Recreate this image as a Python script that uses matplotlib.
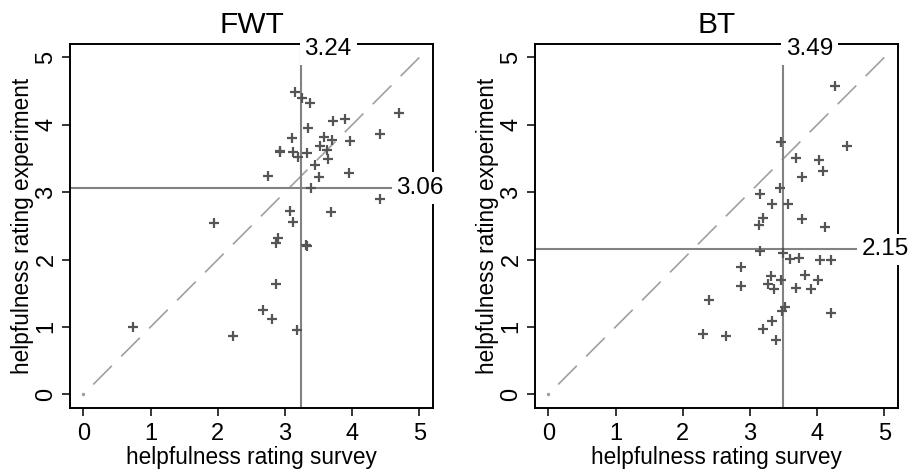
import matplotlib
matplotlib.use("Agg")
import matplotlib.pyplot as plt

# ---- data ----
titles = ["FWT", "BT"]
x_fwt = [3.15, 3.26, 3.38, 4.70, 3.71, 3.90, 3.35, 4.42, 3.11, 3.58,
         3.70, 3.97, 3.52, 2.92, 2.93, 3.12, 3.33, 3.20, 3.62, 3.64,
         3.44, 2.74, 3.51, 3.95, 3.39, 4.42, 3.08, 3.68, 3.12, 1.94,
         2.90, 2.87, 3.31, 3.33, 2.87, 2.67, 2.80, 3.18, 2.23, 0.73]
y_fwt = [4.49, 4.40, 4.32, 4.18, 4.06, 4.09, 3.96, 3.86, 3.81, 3.82,
         3.77, 3.76, 3.69, 3.60, 3.61, 3.59, 3.58, 3.52, 3.63, 3.49,
         3.40, 3.24, 3.23, 3.28, 3.06, 2.90, 2.72, 2.70, 2.56, 2.54,
         2.32, 2.24, 2.22, 2.20, 1.64, 1.25, 1.12, 0.96, 0.86, 1.00]
x_bt = [4.26, 3.47, 4.45, 3.69, 4.03, 4.09, 3.78, 3.45, 3.15, 3.33,
        3.57, 3.20, 3.78, 3.13, 4.12, 3.15, 3.50, 3.59, 3.73, 4.05,
        4.21, 2.87, 3.32, 3.47, 3.82, 4.01, 3.27, 3.36, 3.68, 3.91,
        2.87, 2.39, 3.52, 3.48, 4.21, 3.33, 3.19, 2.30, 2.64, 3.39]
y_bt = [4.58, 3.74, 3.69, 3.50, 3.48, 3.31, 3.23, 3.06, 2.97, 2.82,
        2.82, 2.61, 2.60, 2.51, 2.48, 2.13, 2.10, 2.01, 2.03, 1.99,
        1.99, 1.89, 1.76, 1.69, 1.77, 1.69, 1.64, 1.56, 1.58, 1.56,
        1.61, 1.40, 1.29, 1.23, 1.20, 1.09, 0.97, 0.90, 0.86, 0.81]
mean_x = [3.24, 3.49]
mean_y = [3.06, 2.15]
ticks = [0, 1, 2, 3, 4, 5]
xlabel = "helpfulness rating survey"
ylabel = "helpfulness rating experiment"

plt.rcParams['font.family'] = ['Liberation Sans', 'DejaVu Sans']
plt.rcParams['lines.scale_dashes'] = False

fig = plt.figure(figsize=(9.12, 4.72), dpi=100)
ax_pos = [[0.0768, 0.1362, 0.3977, 0.7706],
          [0.5866, 0.1362, 0.3977, 0.7706]]

data = [(x_fwt, y_fwt), (x_bt, y_bt)]
for i in range(2):
    ax = fig.add_axes(ax_pos[i])
    xs, ys = data[i]
    lo, hi = ticks[0], ticks[-1]
    ax.set_xlim(lo - 0.2, hi + 0.2)
    ax.set_ylim(lo - 0.2, hi + 0.2)
    # diagonal reference line y = x
    ax.plot([hi, lo], [hi, lo], color='#a0a0a0', lw=1.2,
            dashes=(19, 9.5), zorder=1)
    ax.plot([lo], [lo], marker='o', ms=1.5, color='#a0a0a0', zorder=1)
    # mean lines
    ax.axvline(mean_x[i], color='#828282', lw=1.5, zorder=2)
    ax.axhline(mean_y[i], color='#828282', lw=1.5, zorder=2)
    # points
    ax.scatter(xs, ys, marker='+', s=62, linewidths=1.6,
               color='#555555', zorder=3)
    # mean labels
    box = dict(boxstyle='square,pad=0.2', fc='white', ec='none')
    ax.text(mean_x[i] + 0.05, 5.12, f"{mean_x[i]:.2f}", ha='left', va='center',
            fontsize=17.5, bbox=box, clip_on=False, zorder=10)
    ax.text(4.66, mean_y[i], f"{mean_y[i]:.2f}", ha='left', va='center',
            fontsize=17.5, bbox=box, clip_on=False, zorder=10)

    ax.set_xticks(ticks)
    ax.set_yticks(ticks)
    ax.tick_params(direction='out', length=6, width=1.1, labelsize=17)
    ax.tick_params(axis='x', pad=5)
    ax.tick_params(axis='y', pad=3)
    for lab in ax.get_yticklabels():
        lab.set_rotation(90)
        lab.set_va('center')
    for sp in ax.spines.values():
        sp.set_linewidth(1.4)
        sp.set_zorder(5)
    ax.set_title(titles[i], fontsize=21.5, pad=8)
    ax.set_xlabel(xlabel, fontsize=16.3, labelpad=1)
    ax.set_ylabel(ylabel, fontsize=16.3, labelpad=1)

fig.savefig("out.png", dpi=100)
